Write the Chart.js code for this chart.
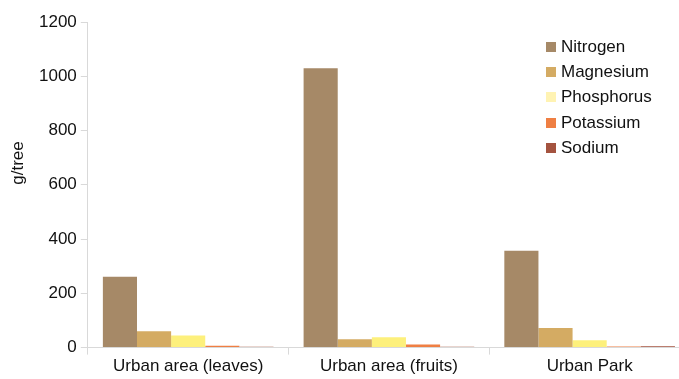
<!DOCTYPE html>
<html>
<head>
<meta charset="utf-8">
<script src="https://cdn.jsdelivr.net/npm/chart.js@4"></script>
<style>
    html, body { margin: 0; padding: 0; background: #fff; overflow: hidden; }
    #wrap { position: relative; width: 690px; height: 379px; }
    #legend { position: absolute; left: 546px; top: 34px; font-family: "Liberation Sans", Arial, sans-serif; font-size: 17px; color: #111; }
    #legend .row { display: flex; align-items: center; height: 25.3px; }
    #legend .box { width: 10px; height: 10px; margin-right: 5px; }
</style>
</head>
<body>
<div id="wrap">
    <canvas id="chart"></canvas>
    <div id="legend"></div>
</div>
<script>
const sites = ['Urban area (leaves)', 'Urban area (fruits)', 'Urban Park'];
const elements = ['Nitrogen', 'Magnesium', 'Phosphorus', 'Potassium', 'Sodium'];

const nitrogen = [261, 1030, 357];
const magnesium = [60, 31, 72];
const phosphorus = [45, 38, 27];
const potassium = [7, 11, 4];
const sodium = [3, 3, 5];

const barColors = ['#a68967', '#d4ab63', '#fdf07c', '#ef7f43', '#a4533f'];
const keyColors = ['#a68967', '#d4ab63', '#fff3b3', '#ef7f43', '#a4533f'];

const seriesValues = [nitrogen, magnesium, phosphorus, potassium, sodium];

const datasets = elements.map((name, i) => ({
    label: name,
    data: seriesValues[i],
    backgroundColor: barColors[i],
    borderWidth: 0,
    barPercentage: 1,
    categoryPercentage: 0.85
}));

// legend sits inside the plot, top right
const legend = document.getElementById('legend');
elements.forEach((name, i) => {
    const row = document.createElement('div');
    row.className = 'row';
    row.innerHTML = `<span class="box" style="background:${keyColors[i]}"></span><span>${name}</span>`;
    legend.appendChild(row);
});

const fontFamily = '"Liberation Sans", Arial, sans-serif';
const axisFont = { family: fontFamily, size: 17 };

// y-axis title sits a little above the plot's middle
const yTitle = {
    id: 'yTitle',
    afterDraw(chart) {
        const ctx = chart.ctx;
        ctx.save();
        ctx.translate(18, 163);
        ctx.rotate(-Math.PI / 2);
        ctx.font = `17px ${fontFamily}`;
        ctx.fillStyle = '#111';
        ctx.textAlign = 'center';
        ctx.textBaseline = 'middle';
        ctx.fillText('g/tree', 0, 0);
        ctx.restore();
    }
};

new Chart(document.getElementById('chart'), {
    type: 'bar',
    data: { labels: sites, datasets },
    options: {
        responsive: true,
        maintainAspectRatio: false,
        animation: false,
        layout: { padding: { top: 22, left: 35, right: 0, bottom: 0 } },
        plugins: { legend: { display: false }, tooltip: { enabled: false } },
        scales: {
            x: {
                grid: { display: true, drawOnChartArea: false, offset: true, color: '#d9d9d9', tickLength: 7 },
                border: { color: '#d9d9d9' },
                ticks: { color: '#111', font: axisFont, padding: 2, maxRotation: 0 }
            },
            y: {
                min: 0,
                max: 1200,
                grid: { display: true, drawOnChartArea: false, color: '#d9d9d9', tickLength: 7 },
                border: { color: '#d9d9d9' },
                ticks: { stepSize: 200, color: '#111', font: axisFont, padding: 4, callback: v => String(v) }
            }
        }
    },
    plugins: [yTitle]
});
</script>
</body>
</html>
